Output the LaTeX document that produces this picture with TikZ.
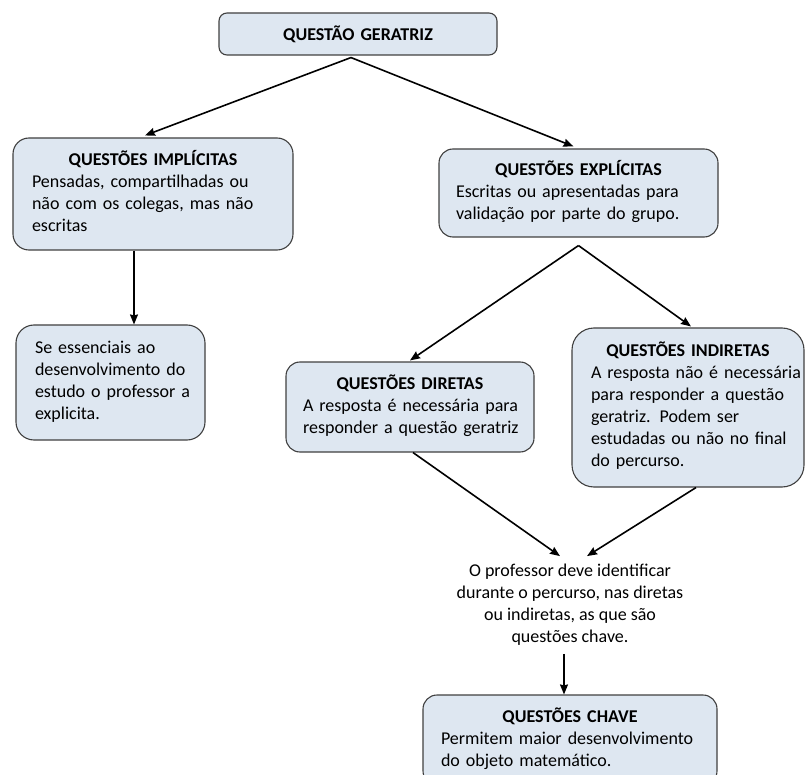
\documentclass[tikz,border=0pt]{standalone}
\usepackage{fontspec}
\setmainfont{Carlito}
\usetikzlibrary{positioning, arrows.meta}

\definecolor{qfill}{HTML}{DEE7F1}
\definecolor{qline}{HTML}{404040}

\newcommand{\qbody}[1]{\noindent\begin{tabular}[t]{@{}l@{}}#1\end{tabular}}
\newcommand{\qtext}[2]{{\centering\bfseries #1\par}\qbody{#2}}

\begin{document}
\begin{tikzpicture}[
    x=1pt, y=-1pt,
    font=\fontsize{18}{22}\selectfont,
    box/.style={rectangle, draw=qline, line width=1.1pt, fill=qfill, rounded corners=14pt, inner sep=0pt, align=left},
    arrow/.style={-{Stealth[length=10pt, width=8pt, inset=1pt]}, line width=1.6pt},
    note/.style={align=center, inner sep=8pt}
]
\useasboundingbox (0,0) rectangle (808,775);

% Top question
\node[box, rounded corners=8pt, minimum width=278pt, minimum height=42pt, text width=250pt, align=center] (ger) at (358,34) {\bfseries QUESTÃO GERATRIZ};

% Implicit and explicit questions
\node[box, rounded corners=16pt, minimum width=280pt, minimum height=112pt, text width=242pt] (impl) at (153,194)
    {\qtext{QUESTÕES IMPLÍCITAS}{Pensadas, compartilhadas ou\\não com os colegas, mas não\\escritas}};
\node[box, minimum width=279pt, minimum height=88pt, text width=245pt] (expl) at (578.5,193)
    {\qtext{QUESTÕES EXPLÍCITAS}{Escritas ou apresentadas para\\validação por parte do grupo.}};

\node[box, rounded corners=18pt, minimum width=189pt, minimum height=115pt, text width=151pt] (essen) at (110.5,382.5)
    {\qbody{Se essenciais ao\\desenvolvimento do\\estudo o professor a\\explicita.}};

% Direct and indirect questions
\node[box, minimum width=248pt, minimum height=90pt, text width=214pt] (dir) at (410,407)
    {\qtext{QUESTÕES DIRETAS}{A resposta é necessária para\\responder a questão geratriz}};
\node[box, rounded corners=22pt, minimum width=232pt, minimum height=159pt, text width=194pt] (indir) at (688,407.5)
    {\qtext{QUESTÕES INDIRETAS}{A resposta não é necessária\\para responder a questão\\geratriz. Podem ser\\estudadas ou não no final\\do percurso.}};

% Teacher's role and key questions
\node[note] (prof) at (570,605)
    {O professor deve identificar\\durante o percurso, nas diretas\\ou indiretas, as que são\\questões chave.};
\node[box, minimum width=294pt, minimum height=90pt, text width=258pt] (chave) at (570,740)
    {\qtext{QUESTÕES CHAVE}{Permitem maior desenvolvimento\\do objeto matemático.}};

% Connections
\coordinate (top) at ([xshift=-7pt,yshift=-2pt]ger.south);
\coordinate (fork) at ([yshift=-8pt]expl.south);
\draw[arrow] (top) -- ([xshift=-8pt,yshift=2pt]impl.north);
\draw[arrow] (top) -- ([xshift=-5pt,yshift=2pt]expl.north);
\draw[arrow] ([xshift=-19pt]impl.south) -- ([xshift=-19pt]impl.south |- essen.north);
\draw[arrow] (fork) -- ([yshift=1pt]dir.north);
\draw[arrow] (fork) -- ([xshift=3pt,yshift=1pt]indir.north);
\draw[arrow] ([xshift=3pt]dir.south) -- ([xshift=-10pt]prof.north);
\draw[arrow] ([xshift=8pt]indir.south) -- ([xshift=17pt]prof.north);
\draw[arrow] ([xshift=-6pt]prof.south) -- ([xshift=-6pt]prof.south |- chave.north);

\end{tikzpicture}
\end{document}
